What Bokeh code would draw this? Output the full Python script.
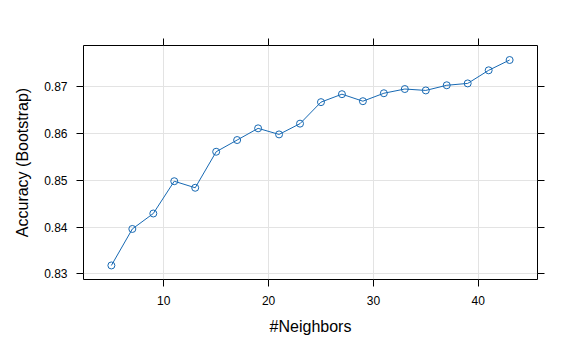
from bokeh.plotting import figure
from bokeh.models import LinearAxis, Range1d, FixedTicker, Grid
from bokeh.embed import file_html
from bokeh.resources import INLINE

neighbors = [5, 7, 9, 11, 13, 15, 17, 19, 21, 23, 25, 27, 29, 31, 33, 35, 37, 39, 41, 43]
accuracy = [0.8318, 0.8396, 0.8429, 0.8498, 0.8484, 0.8561, 0.8586, 0.8611, 0.8598, 0.8621,
            0.8667, 0.8684, 0.8669, 0.8686, 0.8695, 0.8692, 0.8703, 0.8707, 0.8735, 0.8757]
x_ticks = [10, 20, 30, 40]
y_ticks = [0.83, 0.84, 0.85, 0.86, 0.87]
y_tick_labels = {0.83: "0.83", 0.84: "0.84", 0.85: "0.85", 0.86: "0.86", 0.87: "0.87"}

FONT = "Liberation Sans"
BLUE = "#1769B3"

p = figure(width=576, height=355, output_backend="svg", toolbar_location=None,
           x_range=Range1d(2.34, 45.66), y_range=Range1d(0.8288, 0.8788),
           x_axis_location=None, y_axis_location=None,
           min_border_left=83, min_border_right=39, min_border_top=45, min_border_bottom=76)

p.outline_line_color = "black"
p.outline_line_width = 1
p.background_fill_color = "white"
p.border_fill_color = "white"

def make_axis(cls_ticks, labels=True, label_text=None):
    ax = LinearAxis(ticker=FixedTicker(ticks=cls_ticks))
    ax.axis_line_color = None
    ax.major_tick_line_color = "black"
    ax.major_tick_out = 7
    ax.major_tick_in = 0
    ax.minor_tick_line_color = None
    ax.major_label_text_font = FONT
    ax.major_label_text_font_size = "12px"
    ax.major_label_text_color = "black"
    ax.major_label_standoff = 9
    if not labels:
        ax.major_label_text_alpha = 0
        ax.major_label_text_font_size = "1px"
        ax.major_label_standoff = 0
    if label_text:
        ax.axis_label = label_text
        ax.axis_label_text_font = FONT
        ax.axis_label_text_font_size = "16px"
        ax.axis_label_text_font_style = "normal"
        ax.axis_label_text_color = "black"
        ax.axis_label_standoff = 10
    return ax

bottom = make_axis(x_ticks, True, "#Neighbors")
left = make_axis(y_ticks, True, "Accuracy (Bootstrap)")
left.major_label_overrides = y_tick_labels
top = make_axis(x_ticks, False)
right = make_axis(y_ticks, False)

p.add_layout(bottom, "below")
p.add_layout(left, "left")
p.add_layout(top, "above")
p.add_layout(right, "right")

p.xgrid.visible = False
p.ygrid.visible = False
p.add_layout(Grid(dimension=0, ticker=bottom.ticker, grid_line_color="#E3E3E3", grid_line_width=1))
p.add_layout(Grid(dimension=1, ticker=left.ticker, grid_line_color="#E3E3E3", grid_line_width=1))

p.line(neighbors, accuracy, line_color=BLUE, line_width=1)
p.scatter(neighbors, accuracy, size=7, marker="circle", fill_color=None, line_color=BLUE, line_width=1)

open("out.html", "w").write(file_html(p, INLINE))
